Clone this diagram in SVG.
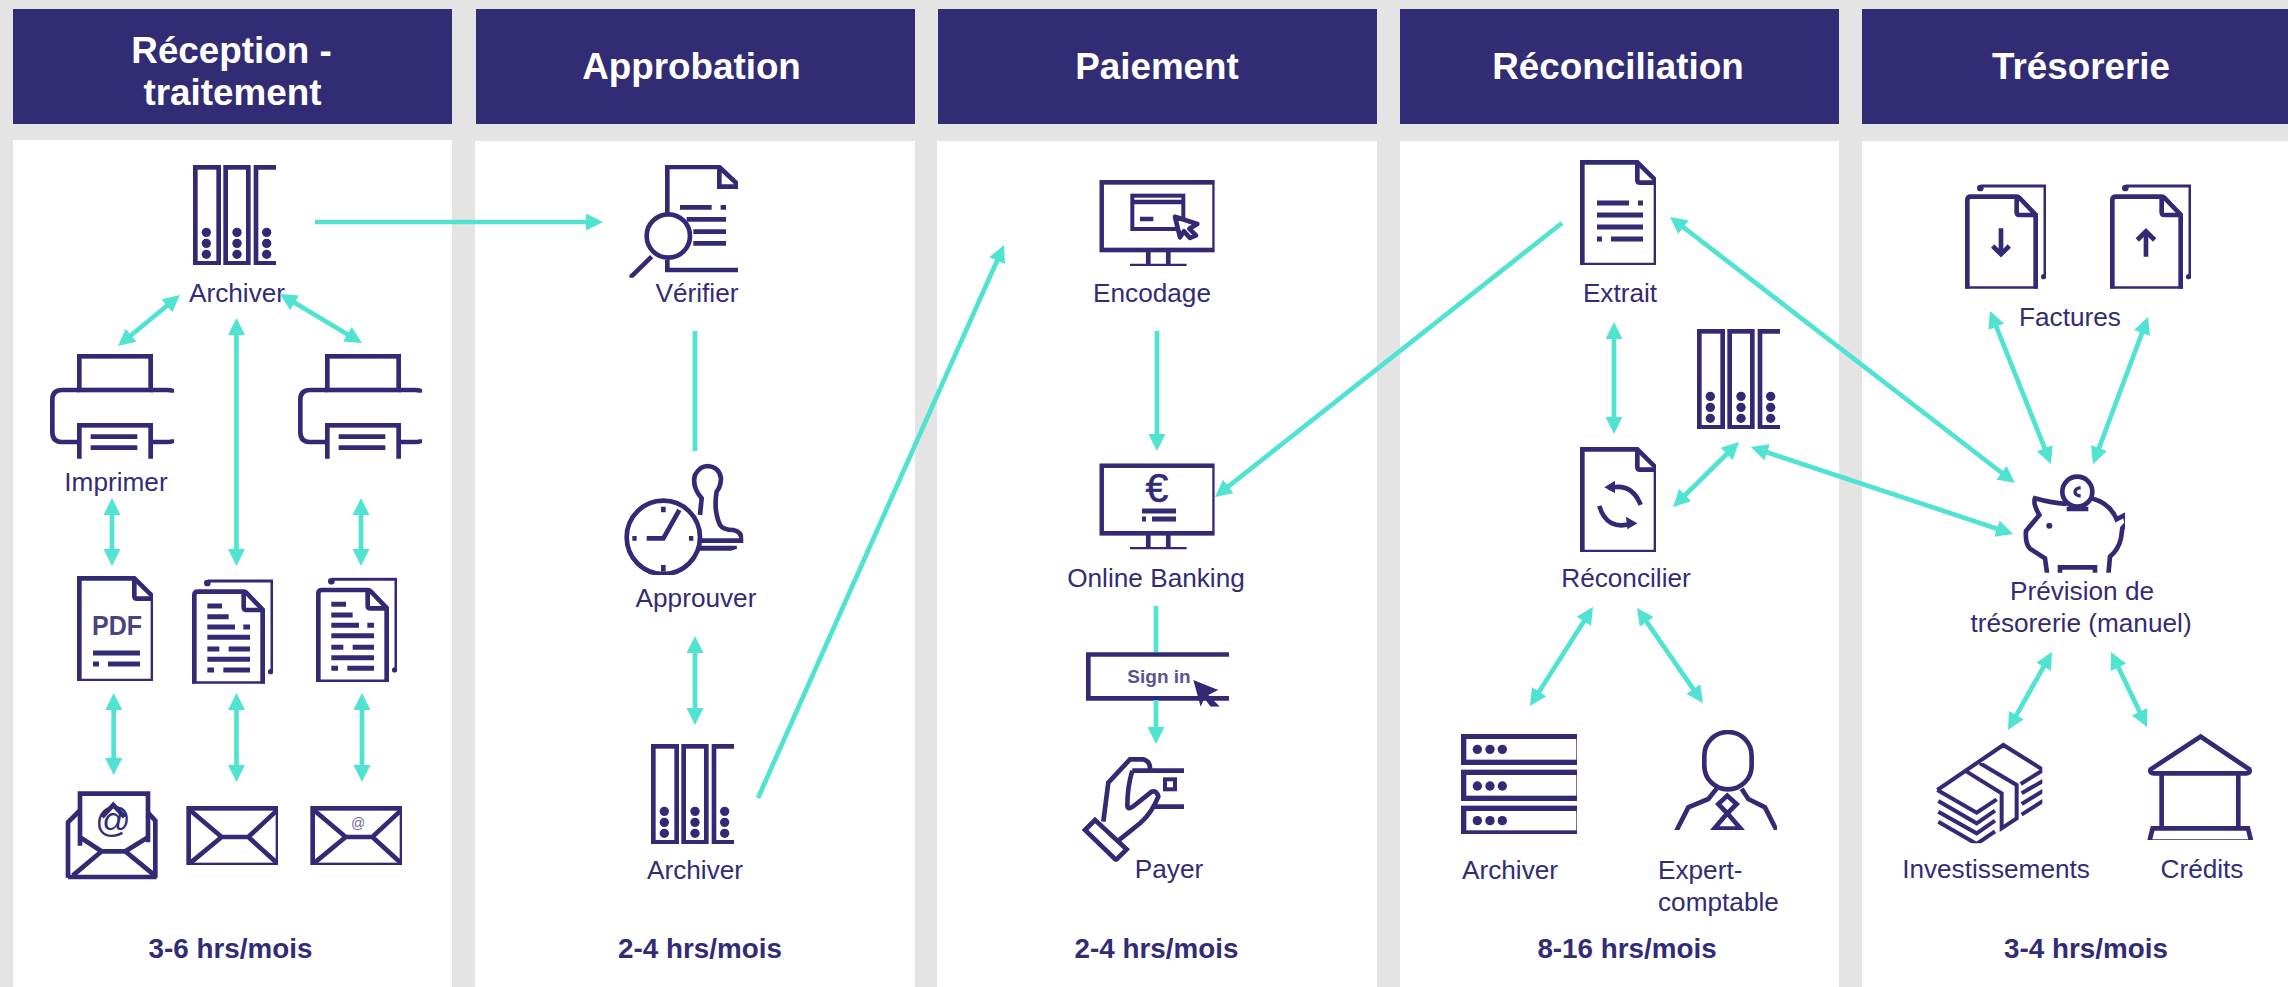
<svg xmlns="http://www.w3.org/2000/svg" width="2288" height="987" viewBox="0 0 2288 987">
<style>
text{font-family:"Liberation Sans",Arial,sans-serif;fill:#322C75}
.h{font-size:36.8px;font-weight:700;fill:#fff;text-anchor:middle}
.l{font-size:26.2px;text-anchor:middle}
.ls{font-size:26.2px}
.t{font-size:27.8px;font-weight:700;text-anchor:middle}
.hd{fill:#322C75}
.pn{fill:#fff}
.s{fill:none;stroke:#322C75;stroke-width:14}
.w{fill:#fff;stroke:#322C75;stroke-width:14}
.n{fill:none;stroke:#322C75;stroke-width:12}
.d{fill:#322C75}
.ic{filter:url(#soft)}
.c{fill:none;stroke:#50E3D2;stroke-width:4.7}
.a{marker-end:url(#ah)}
.b{marker-start:url(#ah);marker-end:url(#ah)}
</style>
<defs>
<filter id="soft" x="-5%" y="-5%" width="110%" height="110%"><feGaussianBlur stdDeviation="1.3"/></filter>
<marker id="ah" markerUnits="userSpaceOnUse" markerWidth="17" markerHeight="17" viewBox="0 0 17 17" refX="12" refY="8.5" orient="auto-start-reverse"><path d="M0,0L17,8.5L0,17Z" fill="#50E3D2"/></marker>
<clipPath id="cB"><rect width="249" height="300"/></clipPath>
<clipPath id="cD"><rect width="228" height="315"/></clipPath>
<clipPath id="cS"><rect width="243" height="314"/></clipPath>
<clipPath id="cM"><rect width="346" height="258"/></clipPath>
<clipPath id="cP"><rect width="372" height="314"/></clipPath>
<clipPath id="cE"><rect width="276" height="177"/></clipPath>
<clipPath id="cSv"><rect width="348" height="300"/></clipPath>
<clipPath id="cV"><rect x="208" y="105" width="326" height="338"/></clipPath>
<clipPath id="cA"><rect x="0" y="40" width="370" height="335"/></clipPath>
<clipPath id="cSI"><rect x="138" y="157" width="429" height="163"/></clipPath>
<clipPath id="cH"><rect x="125" y="470" width="307" height="315"/></clipPath>
<clipPath id="cEx"><rect x="700" y="90" width="311" height="300"/></clipPath>
<clipPath id="cMo"><rect x="160" y="65" width="327" height="305"/></clipPath>
<clipPath id="cBk"><rect x="790" y="40" width="340" height="320"/></clipPath>
<clipPath id="cPg"><rect x="185" y="40" width="310" height="298"/></clipPath>
<g id="binder" clip-path="url(#cB)">
<rect class="s" x="7" y="7" width="70" height="288"/><rect class="s" x="98" y="7" width="68" height="288"/>
<path class="s" d="M255,7H189V295H255"/>
<g class="d"><circle cx="40" cy="202" r="14"/><circle cx="40" cy="235" r="14"/><circle cx="40" cy="268" r="14"/><circle cx="132" cy="202" r="14"/><circle cx="132" cy="235" r="14"/><circle cx="132" cy="268" r="14"/><circle cx="221" cy="202" r="14"/><circle cx="221" cy="235" r="14"/><circle cx="221" cy="268" r="14"/></g>
</g>
<g id="doc" clip-path="url(#cD)"><path class="s" d="M7,7H172L228,62V315H7Z"/><path class="s" d="M172,7V60Q172,68 180,68H228"/></g>
<g id="stack" clip-path="url(#cS)">
<path class="s" d="M48,6H240V278" style="stroke-width:9"/><circle class="d" cx="46" cy="12" r="10"/><circle class="d" cx="236" cy="278" r="8"/>
<path class="w" style="stroke:none" d="M6,38H155L215,95V314H6Z"/>
<path class="s" d="M7,314V48Q7,38 18,38H155Q160,38 165,43L212,92V314"/><path class="s" d="M0,314H219"/><path class="s" d="M155,38V85Q155,93 163,93H212"/>
</g>
<g id="lines"><path class="s" style="stroke-width:15" d="M46,81H90M46,113H110M46,144H129M154,144H174M46,175H174M46,210H82M110,210H174M46,241H174M46,273H66M94,273H174"/></g>
<g id="printer" clip-path="url(#cP)">
<rect class="s" x="88" y="7" width="214" height="101"/>
<path class="s" d="M88,264H36Q7,264 7,234V138Q7,108 36,108H88M302,108H350Q372,108 372,116M302,264H350Q372,264 372,256"/>
<rect class="s" x="88" y="214" width="214" height="110"/>
<path class="s" d="M122,248H262M122,281H262"/>
</g>
<g id="env" clip-path="url(#cE)"><rect class="s" x="8" y="7" width="268" height="170"/><path class="s" d="M14,14L107,93H187L272,14M14,170L107,93M187,93L272,170"/></g>
<g id="monitor" clip-path="url(#cM)"><rect class="s" x="7" y="7" width="339" height="203"/><path class="s" d="M147,210V256M207,210V256"/><path d="M92,256H262" class="s" style="stroke-width:9"/></g>
</defs>

<rect width="2288" height="987" fill="#E4E4E4"/>
<g id="panels">
<rect class="pn" x="13" y="140" width="439" height="847"/><rect class="pn" x="475" y="141" width="440" height="846"/><rect class="pn" x="937" y="141" width="440" height="846"/><rect class="pn" x="1400" y="141" width="439" height="846"/><rect class="pn" x="1862" y="141" width="426" height="846"/>
</g>
<g id="head-reception"><rect class="hd" x="13" y="9" width="439" height="115"/><text class="h" x="231.5" y="63">Réception -</text><text class="h" x="232.5" y="105">traitement</text></g>
<g id="head-approbation"><rect class="hd" x="476" y="9" width="439" height="115"/><text class="h" x="691.5" y="79">Approbation</text></g>
<g id="head-paiement"><rect class="hd" x="938" y="9" width="439" height="115"/><text class="h" x="1157" y="79">Paiement</text></g>
<g id="head-reconciliation"><rect class="hd" x="1400" y="9" width="439" height="115"/><text class="h" x="1618" y="79">Réconciliation</text></g>
<g id="head-tresorerie"><rect class="hd" x="1862" y="9" width="426" height="115"/><text class="h" x="2081" y="79">Trésorerie</text></g>

<g id="n-archiver1"><use href="#binder" class="ic" transform="translate(193,165) scale(.3333)"/><text class="l" x="237" y="302">Archiver</text></g>
<g id="n-imprimer"><use href="#printer" class="ic" transform="translate(50,354) scale(.3333)"/><text class="l" x="116" y="491">Imprimer</text></g>
<g id="n-printer2"><use href="#printer" class="ic" transform="translate(298,354) scale(.3333)"/></g>
<g id="n-pdf"><use href="#doc" class="ic" transform="translate(77,576) scale(.3333)"/><text x="117" y="635" font-size="27" font-weight="700" text-anchor="middle" textLength="50" lengthAdjust="spacingAndGlyphs" style="fill:#4A4485">PDF</text><path d="M93,653H140M108,664H140M93,664H99" fill="none" stroke="#322C75" stroke-width="5"/></g>
<g id="n-stack1"><g class="ic" transform="translate(192,579) scale(.3333)"><use href="#stack"/><use href="#lines"/></g></g>
<g id="n-stack2"><g class="ic" transform="translate(316,577.3) scale(.3333)"><use href="#stack"/><use href="#lines"/></g></g>
<g id="n-mail-open">
<g class="ic" transform="translate(66,779) scale(.3333)">
<path class="s" d="M6,296V130L40,96M245,100L268,125V296M6,294H272M108,114L142,78L176,114"/>
<path class="s" d="M42,200V44H246V190"/>
<path class="s" d="M42,175L107,217H178L246,175M20,290L107,217M178,217L267,290"/>
</g>
<text x="113" y="832" font-size="35" text-anchor="middle">@</text>
</g>
<g id="n-mail"><use href="#env" class="ic" transform="translate(186,806) scale(.3333)"/></g>
<g id="n-mail-at"><use href="#env" class="ic" transform="translate(310,806) scale(.3333)"/><text x="358" y="828" font-size="14" text-anchor="middle" style="fill:#6F6AA0">@</text></g>

<g id="n-verifier">
<g class="ic" transform="translate(560,130) scale(.3333)"><g clip-path="url(#cV)">
<path class="s" d="M322,250V111H478L540,170M478,111V170H540M322,390V420H540"/>
<path class="s" d="M360,232H455M482,232H498M380,268H498M400,305H498M400,340H498"/>
<circle class="s" cx="325" cy="318" r="65" style="stroke-width:14"/><path class="s" d="M275,380L205,448"/>
</g></g>
<text class="l" x="697" y="302">Vérifier</text>
</g>
<g id="n-approuver">
<g class="ic" transform="translate(620,450) scale(.3333)"><g clip-path="url(#cA)">
<circle class="s" cx="130" cy="262" r="110"/>
<path class="s" d="M80,265H130L178,180M130,170V187M130,345V365M37,265H50M207,265H220"/>
<path class="s" d="M240,195L245,145Q215,110 225,75Q240,48 262,48Q298,50 303,85Q302,110 290,125Q280,180 300,225Q310,240 340,240Q366,245 365,272H240"/>
<path class="s" d="M240,292H350L332,298H240" style="stroke-width:9"/>
</g></g>
<text class="l" x="696" y="607">Approuver</text>
</g>
<g id="n-archiver2"><use href="#binder" class="ic" transform="translate(651,744) scale(.3333)"/><text class="l" x="695" y="879">Archiver</text></g>

<g id="n-encodage">
<use href="#monitor" class="ic" transform="translate(1099.3,180) scale(.3333)"/>
<g class="ic" transform="translate(1040,150) scale(.3333)">
<rect class="s" x="277" y="137" width="153" height="100" style="stroke-width:12"/><path class="s" d="M277,156H430M300,207H340"/>
<path class="w" style="stroke-linejoin:round" d="M405,200L472,222L448,236L468,256L450,264L432,244L420,262Z"/>
</g>
<text class="l" x="1152" y="302">Encodage</text>
</g>
<g id="n-online">
<use href="#monitor" class="ic" transform="translate(1099.3,463.3) scale(.3333)"/>
<text x="1157" y="502" font-size="41" text-anchor="middle" stroke="#322C75" stroke-width=".6">€</text>
<path d="M1142,511H1176M1152,519H1176M1142,519H1146" fill="none" stroke="#322C75" stroke-width="5"/>
<text class="l" x="1156" y="587">Online Banking</text>
</g>
<g id="n-signin">
<g class="ic" transform="translate(1040,600) scale(.3333)"><g clip-path="url(#cSI)">
<rect x="138" y="157" width="429" height="143" fill="#fff"/>
<path class="s" d="M570,163H145V295H570"/>
<path class="d" d="M460,240L535,270L505,285L540,320H512L493,295L482,320Z"/>
</g></g>
<text x="1159" y="683" font-size="19" font-weight="700" text-anchor="middle" style="fill:#5A5490">Sign in</text>
</g>
<g id="n-payer">
<g class="ic" transform="translate(1040,600) scale(.3333)"><g clip-path="url(#cH)">
<path class="s" d="M190,665L205,548Q240,510 270,478H310Q332,485 330,510M277,512H432M340,620H432M277,512Q262,560 262,618Q265,632 285,615L335,575Q350,570 355,590Q335,640 300,670L235,722"/>
<path class="s" d="M135,690L165,660L260,748L228,780Z"/>
<rect class="n" x="375" y="538" width="30" height="30"/>
</g></g>
<text class="l" x="1169" y="878">Payer</text>
</g>

<g id="n-extrait">
<use href="#doc" class="ic" transform="translate(1580,160) scale(.3333)"/>
<path d="M1597,203H1629M1638,203H1643M1597,215H1643M1597,227H1643M1597,239H1602M1611,239H1643" fill="none" stroke="#322C75" stroke-width="5.2"/>
<text class="l" x="1620" y="302">Extrait</text>
</g>
<g id="n-archive-box"><use href="#binder" class="ic" transform="translate(1697,329) scale(.3333)"/></g>
<g id="n-reconcilier">
<use href="#doc" class="ic" transform="translate(1580,447) scale(.3333)"/>
<g class="ic" transform="translate(1540,140) scale(.3333)">
<path class="s" d="M205,1045Q275,1025 302,1095M178,1098Q200,1175 280,1150"/>
<path class="d" d="M193,1042L225,1022L225,1060ZM292,1150L258,1130L262,1168Z"/>
</g>
<text class="l" x="1626" y="587">Réconcilier</text>
</g>
<g id="n-archiver-server">
<g class="ic" transform="translate(1461,734) scale(.3333)"><g clip-path="url(#cSv)">
<rect class="s" x="8" y="7" width="346" height="78" style="stroke-width:16"/><rect class="s" x="8" y="115" width="346" height="78" style="stroke-width:16"/><rect class="s" x="8" y="223" width="346" height="74" style="stroke-width:16"/>
<g class="d"><circle cx="49" cy="46" r="14"/><circle cx="87" cy="46" r="14"/><circle cx="124" cy="46" r="14"/><circle cx="49" cy="156" r="14"/><circle cx="87" cy="156" r="14"/><circle cx="124" cy="156" r="14"/><circle cx="49" cy="260" r="14"/><circle cx="87" cy="260" r="14"/><circle cx="124" cy="260" r="14"/></g>
</g></g>
<text class="l" x="1510" y="879">Archiver</text>
</g>
<g id="n-expert">
<g class="ic" transform="translate(1440,700) scale(.3333)"><g clip-path="url(#cEx)">
<rect class="s" x="793" y="96" width="142" height="172" rx="71" ry="71"/>
<path class="s" d="M708,395L745,322L805,297L830,266M905,266L925,297L975,322L1012,395M862,287L890,312L862,340L835,312ZM862,340L815,395M862,340L910,395M825,386H900"/>
</g></g>
<text class="ls" x="1658" y="879">Expert-</text><text class="ls" x="1658" y="911">comptable</text>
</g>

<g id="n-factures">
<g class="ic" transform="translate(1965,184) scale(.3333)"><use href="#stack"/></g>
<g class="ic" transform="translate(2110,184) scale(.3333)"><use href="#stack"/></g>
<g class="ic" transform="translate(1920,160) scale(.3333)"><path class="s" d="M243,205V282M218,258L243,283L268,258M678,290V215M652,240L678,214L704,240"/></g>
<text class="l" x="2070" y="326">Factures</text>
</g>
<g id="n-prevision">
<g class="ic" transform="translate(1960,460) scale(.3333)"><g clip-path="url(#cPg)">
<path class="s" d="M320,132Q270,128 225,115Q218,130 238,165L198,213Q195,250 210,266L255,295L262,345M300,345V322H405V345M445,345L450,290Q475,270 483,235L487,205L500,190L495,165L470,178Q450,130 395,115"/>
<circle class="s" cx="352" cy="95" r="45"/>
<path class="s" d="M320,147H385"/>
<path class="s" d="M362,83Q345,85 345,96Q345,106 362,108" style="stroke-width:10"/>
<circle class="d" cx="268" cy="197" r="9"/>
</g></g>
<text class="l" x="2082" y="600">Prévision de</text><text class="l" x="2081" y="632">trésorerie (manuel)</text>
</g>
<g id="n-investissements">
<g class="ic" transform="translate(1880,720) scale(.3333)"><g clip-path="url(#cMo)">
<path class="n" d="M172,210L370,75L490,150L422,192M260,155L365,220V325L410,295V195L300,130M172,210L290,278L350,238M175,243L290,310L345,272M175,275L290,340L345,302M175,305L290,372L345,334M425,220L490,182M425,252L490,212M425,284L490,242"/>
</g></g>
<text class="l" x="1996" y="878">Investissements</text>
</g>
<g id="n-credits">
<g class="ic" transform="translate(1880,720) scale(.3333)"><g clip-path="url(#cBk)">
<path class="s" d="M812,148L962,50L1108,148Q1112,160 1100,160H822Q808,160 812,148ZM845,160V325M1075,160V325M818,325H1104L1114,365H808Z"/>
</g></g>
<text class="l" x="2202" y="878">Crédits</text>
</g>

<g id="times">
<text class="t" x="230.5" y="958">3-6 hrs/mois</text><text class="t" x="700" y="958">2-4 hrs/mois</text><text class="t" x="1156.5" y="958">2-4 hrs/mois</text><text class="t" x="1627" y="958">8-16 hrs/mois</text><text class="t" x="2086" y="958">3-4 hrs/mois</text>
</g>

<g id="connectors">
<path class="c a" d="M315,222H598"/>
<path class="c b" d="M176.1,298.2L121.9,342.8"/>
<path class="c b" d="M284.3,296.6L357.7,340.4"/>
<path class="c b" d="M236.5,323V561"/>
<path class="c b" d="M112,503V561"/>
<path class="c b" d="M361,503V561"/>
<path class="c b" d="M113.7,698V770"/>
<path class="c b" d="M236.5,698V777"/>
<path class="c b" d="M362,698V777"/>
<path class="c" d="M695,331V451"/>
<path class="c b" d="M695,641V720"/>
<path class="c a" d="M758,798L1002,249.6"/>
<path class="c a" d="M1157,331V446"/>
<path class="c" d="M1156,606V652"/>
<path class="c a" d="M1156,700V739"/>
<path class="c a" d="M1562,223L1218.9,493.9"/>
<path class="c b" d="M1674,220L2011,480"/>
<path class="c b" d="M1755.7,448.6L2008.3,532.4"/>
<path class="c b" d="M1614,327V429"/>
<path class="c b" d="M1676.6,503.5L1735.4,445.5"/>
<path class="c b" d="M1590.3,611.2L1532.7,701.8"/>
<path class="c b" d="M1639.9,612.1L1700.1,698.9"/>
<path class="c b" d="M1991.9,315.6L2049.1,459.4"/>
<path class="c b" d="M2146.2,321.7L2094.8,459.3"/>
<path class="c b" d="M2049.5,656.4L2010.5,725.6"/>
<path class="c b" d="M2113.2,656.5L2144.8,722.5"/>
</g>
</svg>
